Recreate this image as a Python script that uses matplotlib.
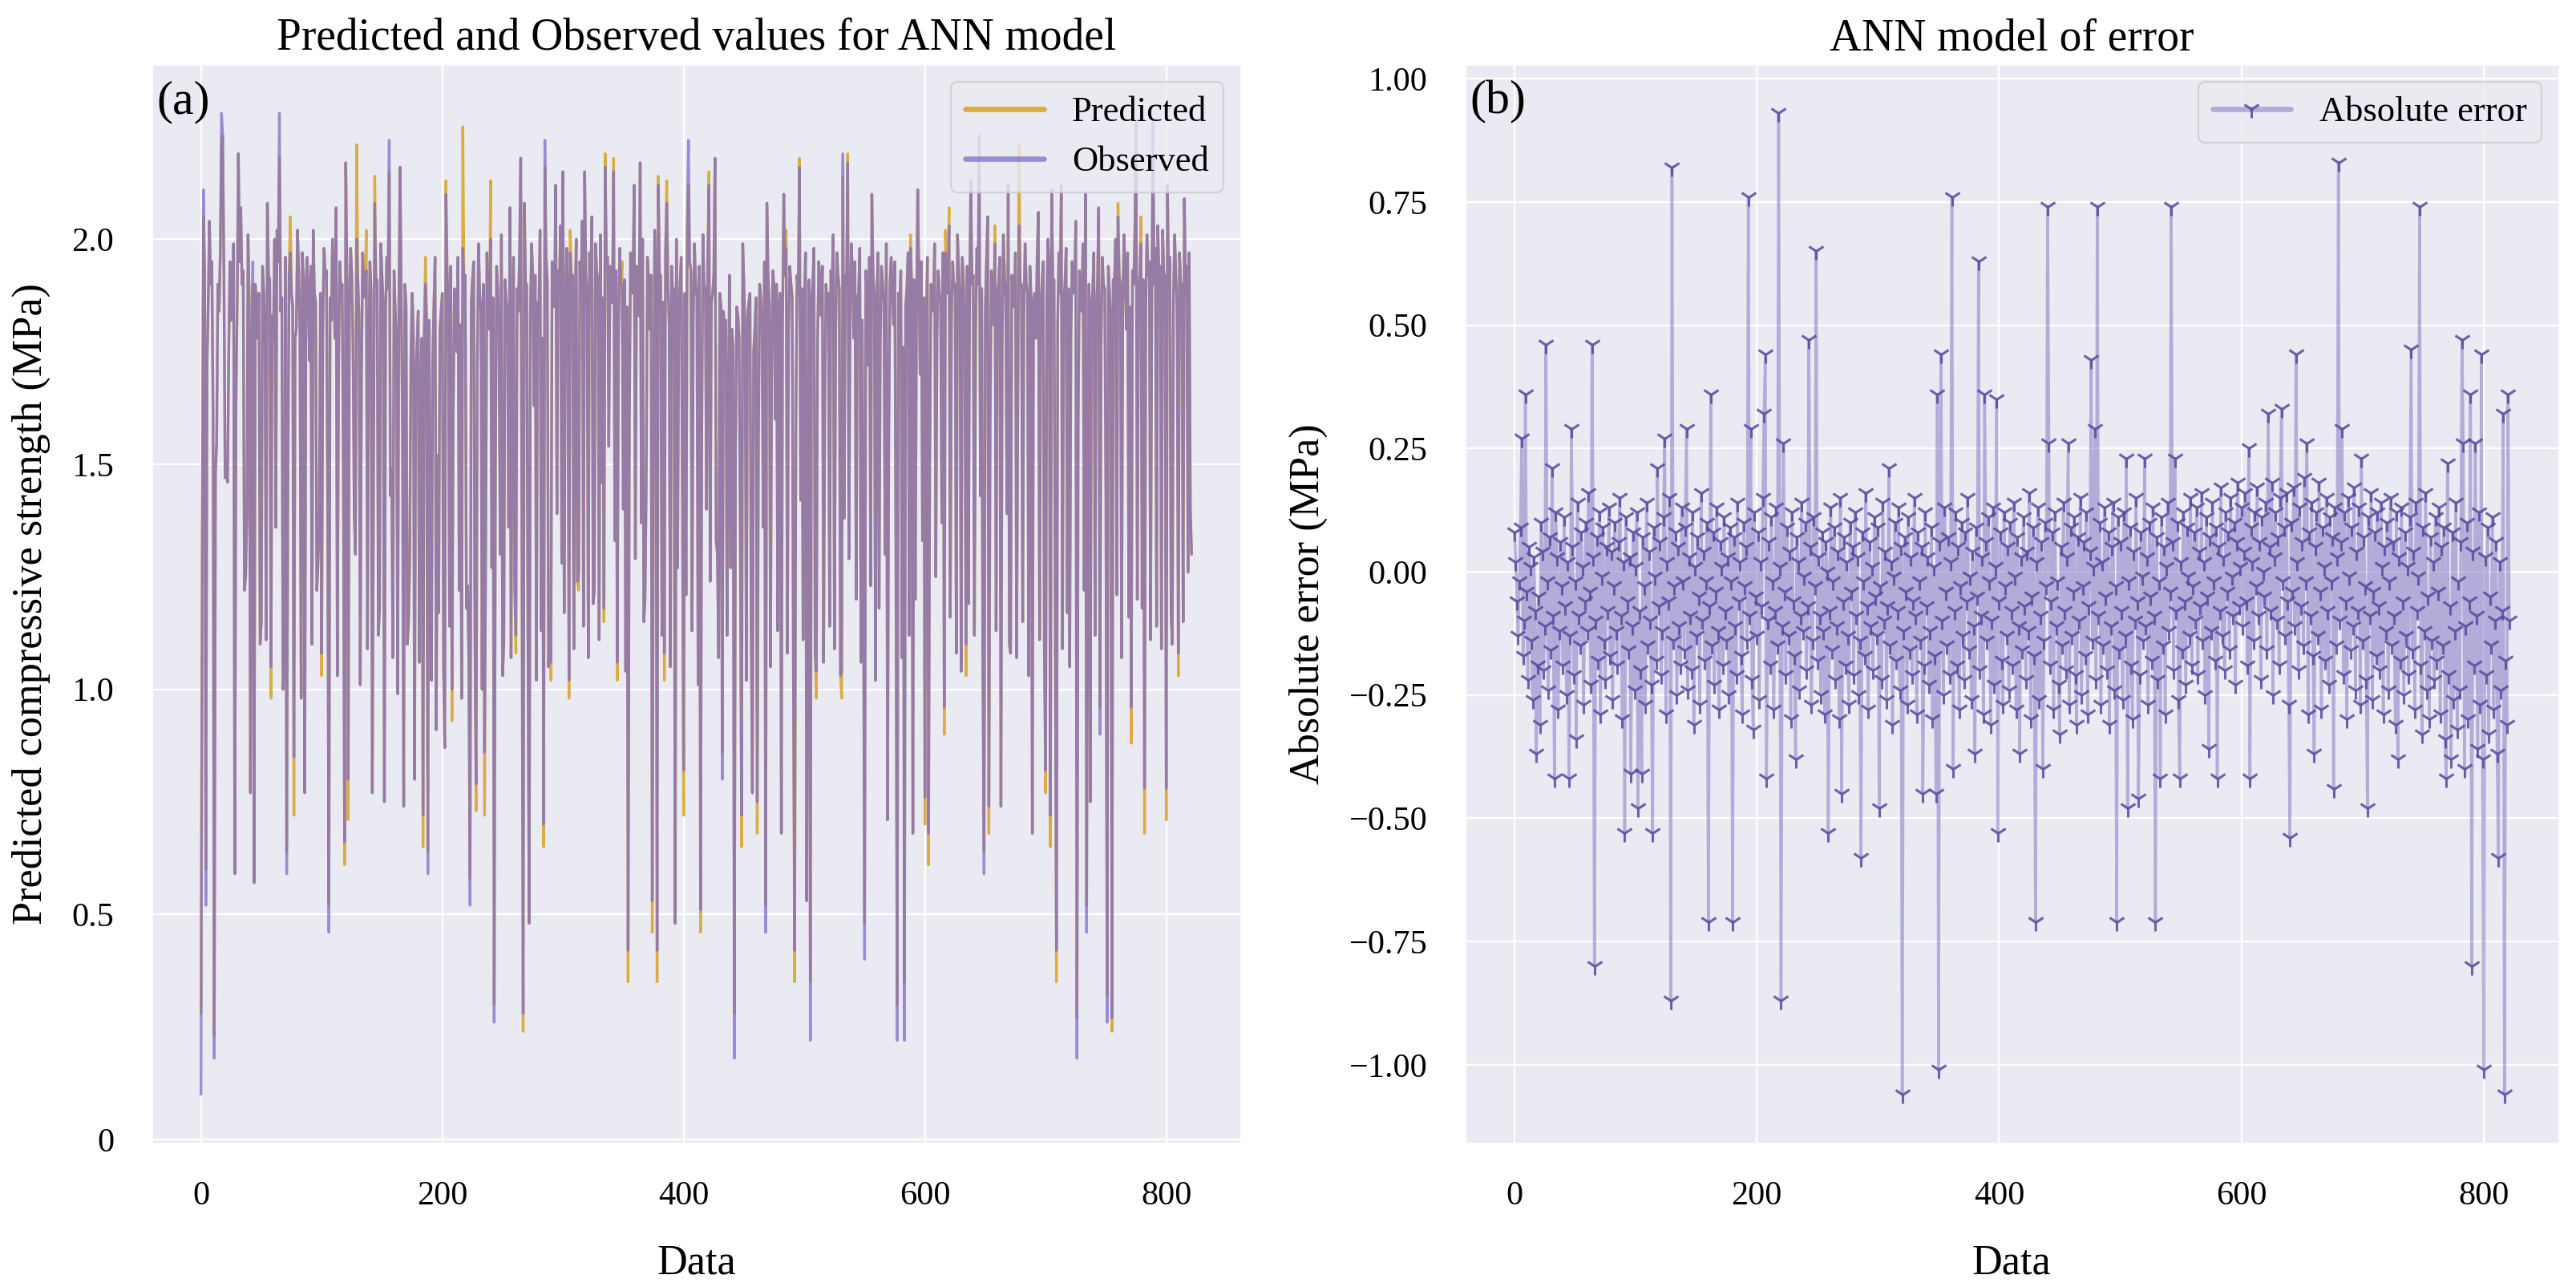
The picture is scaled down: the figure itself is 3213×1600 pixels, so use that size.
import numpy as np
import matplotlib
matplotlib.use("Agg")
import matplotlib.pyplot as plt
import seaborn as sns

# ---------------- data ----------------
observed = [
    0.10, 1.30, 2.11, 1.93, 0.52, 1.72, 1.86, 2.04, 1.90, 1.95, 1.62, 0.18, 1.48, 1.55, 1.90, 1.84, 1.97, 2.28, 2.23, 1.92,
    1.47, 1.48, 1.46, 1.75, 1.95, 1.82, 1.88, 1.99, 0.59, 1.64, 1.86, 2.19, 1.95, 2.07, 1.90, 1.93, 1.22, 1.25, 1.38, 2.01,
    1.86, 0.77, 1.74, 1.95, 0.57, 1.90, 1.86, 1.78, 1.88, 1.10, 1.15, 1.94, 1.88, 1.80, 1.11, 2.08, 1.92, 1.91, 1.05, 1.83,
    1.78, 2.00, 1.36, 2.02, 1.95, 2.28, 1.84, 1.87, 1.00, 1.05, 1.96, 0.59, 1.44, 1.92, 1.97, 1.88, 1.85, 0.85, 1.78, 1.80,
    2.02, 1.93, 1.80, 0.98, 1.97, 1.91, 0.77, 1.89, 1.96, 1.85, 1.73, 1.94, 1.10, 2.02, 1.88, 1.86, 1.22, 1.28, 1.37, 1.88,
    1.08, 1.81, 1.98, 1.92, 1.93, 1.40, 0.46, 1.87, 1.82, 2.00, 1.89, 1.78, 2.07, 1.03, 1.71, 1.95, 1.88, 1.90, 1.48, 0.66,
    2.17, 1.90, 0.80, 1.85, 1.98, 1.92, 1.76, 1.39, 1.30, 2.00, 1.91, 1.83, 1.01, 1.69, 1.97, 1.88, 1.87, 1.93, 1.09, 1.75,
    1.95, 1.88, 0.77, 1.50, 2.08, 1.90, 1.91, 1.12, 1.18, 1.99, 1.92, 1.86, 0.75, 1.84, 1.96, 1.89, 2.22, 1.43, 1.49, 1.07,
    1.93, 1.84, 1.77, 0.99, 1.86, 2.16, 1.88, 1.58, 0.74, 1.90, 1.85, 1.10, 1.15, 1.29, 1.74, 1.88, 1.80, 0.80, 1.70, 1.76,
    1.84, 1.06, 1.66, 1.78, 0.72, 1.79, 1.90, 1.82, 0.59, 1.82, 1.31, 1.02, 1.73, 1.85, 1.96, 0.91, 1.52, 1.17, 1.80, 1.84,
    1.88, 1.05, 0.87, 2.10, 1.93, 1.83, 1.14, 1.94, 1.00, 1.60, 1.89, 1.84, 1.75, 1.96, 1.22, 1.81, 0.98, 1.98, 1.90, 1.92,
    1.18, 1.23, 1.06, 0.52, 1.86, 1.91, 1.95, 1.13, 0.79, 1.72, 1.99, 1.88, 1.84, 1.00, 1.90, 0.86, 1.35, 1.97, 1.86, 1.80,
    2.00, 1.27, 1.87, 0.26, 1.48, 1.94, 1.89, 1.79, 1.30, 2.01, 1.03, 1.10, 1.91, 1.86, 1.85, 1.36, 2.07, 1.07, 1.76, 1.96,
    1.23, 1.12, 1.89, 1.84, 1.97, 2.18, 1.31, 0.28, 2.08, 1.90, 1.90, 1.08, 0.48, 1.83, 1.99, 1.92, 1.63, 1.92, 1.02, 1.86,
    1.84, 2.02, 1.13, 1.78, 0.70, 2.22, 1.96, 1.91, 1.05, 1.12, 1.06, 1.95, 1.87, 1.85, 2.12, 1.39, 1.93, 1.90, 2.03, 1.28,
    2.15, 1.17, 1.80, 1.98, 1.88, 1.02, 1.97, 1.91, 1.92, 1.09, 1.84, 2.00, 1.24, 1.26, 1.95, 1.90, 2.04, 1.14, 2.15, 1.92,
    1.88, 1.07, 1.97, 1.90, 2.05, 1.19, 1.22, 1.99, 1.93, 1.91, 1.11, 2.01, 1.46, 1.87, 1.18, 2.16, 1.95, 1.96, 1.54, 1.94,
    1.86, 1.86, 2.15, 1.33, 1.93, 1.06, 1.79, 1.98, 1.90, 1.90, 1.40, 1.91, 1.04, 1.85, 0.42, 1.57, 1.97, 1.92, 1.88, 2.12,
    1.29, 1.94, 1.90, 1.83, 2.17, 1.37, 2.00, 1.15, 1.20, 1.45, 1.96, 1.91, 1.80, 1.92, 0.53, 1.52, 2.02, 1.93, 0.42, 2.12,
    1.92, 1.92, 1.12, 1.86, 1.08, 1.97, 2.08, 1.90, 1.81, 1.05, 1.94, 1.88, 1.89, 0.48, 2.00, 1.27, 1.84, 1.90, 1.96, 1.43,
    0.82, 1.88, 1.21, 2.02, 2.22, 1.95, 1.93, 1.13, 1.82, 1.99, 1.90, 1.87, 1.01, 1.94, 0.51, 1.56, 2.01, 1.90, 1.89, 1.40,
    1.95, 2.12, 1.24, 1.86, 1.88, 1.92, 2.18, 1.33, 1.30, 1.07, 1.88, 1.85, 0.80, 1.84, 1.80, 1.82, 1.12, 1.58, 1.92, 1.27,
    1.80, 1.76, 0.18, 1.52, 1.85, 1.83, 1.78, 1.34, 0.72, 1.99, 1.90, 1.76, 1.02, 1.83, 1.86, 1.88, 1.14, 0.77, 1.75, 1.80,
    1.87, 0.75, 1.55, 1.90, 1.87, 1.81, 1.36, 1.95, 0.46, 2.08, 1.92, 1.86, 1.05, 1.74, 1.93, 1.89, 1.60, 1.90, 1.13, 1.85,
    1.88, 0.68, 1.82, 2.10, 1.92, 1.98, 1.08, 1.79, 1.94, 1.90, 1.87, 1.03, 0.42, 1.59, 1.92, 1.88, 2.16, 1.42, 1.89, 1.11,
    1.84, 1.97, 0.53, 1.48, 1.91, 0.22, 1.86, 1.90, 1.98, 1.08, 1.04, 1.77, 1.95, 1.91, 1.83, 1.94, 1.06, 1.62, 1.90, 1.86,
    1.88, 1.14, 1.93, 1.89, 2.01, 1.09, 1.80, 1.97, 1.92, 1.89, 1.03, 1.04, 2.19, 1.38, 1.92, 1.90, 2.17, 1.29, 1.85, 1.99,
    1.92, 1.78, 1.95, 1.20, 1.87, 1.88, 1.98, 1.06, 1.82, 1.31, 0.40, 1.93, 1.88, 1.72, 1.96, 1.23, 2.10, 1.92, 1.88, 1.02,
    1.84, 1.97, 1.18, 1.79, 1.94, 1.90, 1.86, 1.30, 1.99, 0.71, 1.54, 1.90, 1.96, 1.88, 1.81, 1.95, 1.26, 0.22, 1.88, 1.85,
    1.93, 1.07, 1.76, 0.22, 1.85, 1.89, 1.97, 1.12, 1.98, 1.90, 0.68, 1.91, 1.20, 1.83, 2.11, 1.92, 1.70, 1.95, 1.33, 1.87,
    0.76, 1.80, 1.96, 0.68, 1.52, 1.90, 1.88, 1.84, 1.99, 1.25, 1.78, 1.93, 1.88, 1.86, 1.37, 1.97, 0.96, 1.97, 1.92, 1.88,
    2.03, 1.16, 1.82, 1.95, 1.89, 1.90, 1.08, 2.01, 1.93, 1.87, 1.04, 1.96, 1.90, 1.80, 1.10, 1.94, 1.19, 1.86, 2.13, 1.90,
    1.92, 1.12, 1.79, 1.98, 1.90, 2.23, 1.43, 1.89, 1.06, 0.59, 1.84, 1.95, 2.05, 0.74, 1.57, 1.93, 1.89, 1.81, 1.99, 1.13,
    1.88, 1.90, 1.96, 0.74, 1.76, 2.01, 1.92, 1.87, 1.39, 2.12, 1.10, 1.08, 1.92, 1.88, 1.85, 1.97, 1.07, 1.66, 2.03, 1.90,
    1.90, 1.15, 1.83, 1.99, 1.90, 1.88, 1.03, 1.94, 1.87, 0.68, 1.86, 1.88, 1.78, 1.96, 2.06, 1.11, 1.85, 1.90, 1.95, 1.08,
    0.82, 1.87, 2.00, 1.92, 0.72, 2.11, 1.90, 1.91, 1.13, 0.42, 1.81, 1.97, 1.88, 2.12, 1.09, 1.86, 1.90, 1.98, 1.17, 1.89,
    1.05, 1.79, 1.95, 1.90, 1.88, 2.04, 0.18, 1.58, 1.93, 1.89, 1.84, 1.99, 1.22, 2.10, 0.46, 1.54, 1.90, 0.75, 1.86, 1.88,
    1.97, 1.12, 1.85, 1.90, 2.07, 0.90, 1.77, 1.96, 1.90, 1.89, 1.42, 0.26, 1.94, 1.88, 1.83, 0.27, 1.91, 1.90, 2.00, 1.21,
    2.05, 1.92, 1.90, 1.07, 1.86, 2.01, 1.92, 1.80, 1.97, 1.16, 1.85, 0.96, 1.93, 1.90, 2.02, 2.26, 1.20, 1.88, 1.92, 1.99,
    1.18, 1.91, 0.78, 1.84, 2.01, 1.92, 1.95, 1.11, 1.87, 2.26, 1.90, 1.98, 1.14, 2.03, 1.92, 1.94, 1.09, 2.02, 1.92, 1.92,
    0.78, 2.12, 1.90, 1.96, 1.17, 1.10, 1.88, 2.01, 1.92, 1.85, 1.08, 1.97, 1.90, 1.90, 1.15, 2.09, 1.88, 1.94, 1.26, 1.97,
    1.40, 1.30,
]

# predicted equals observed except where the two curves visibly part
predicted_where_different = {
    0: 0.28, 2: 2.05, 4: 0.60, 11: 0.23, 17: 2.20, 43: 1.90, 58: 0.98, 65: 2.18, 71: 0.64, 74: 2.05,
    77: 0.72, 100: 1.03, 106: 0.52, 119: 0.61, 122: 0.71, 129: 2.21, 137: 2.02, 144: 2.14, 156: 2.15,
    184: 0.65, 186: 1.96, 188: 0.64, 203: 2.13, 208: 0.93, 217: 2.25, 223: 0.58, 228: 0.73, 235: 0.72,
    240: 2.13, 243: 0.30, 261: 1.08, 267: 0.24, 284: 0.65, 285: 2.16, 290: 1.02, 305: 0.98, 306: 2.02,
    313: 1.22, 334: 1.15, 335: 2.19, 342: 2.18, 345: 1.02, 349: 1.95, 354: 0.35, 374: 0.46, 378: 0.35,
    379: 2.14, 384: 1.02, 386: 2.13, 400: 0.72, 404: 2.12, 414: 0.46, 421: 2.15, 432: 0.86, 442: 0.28,
    448: 0.65, 461: 0.68, 468: 0.52, 485: 2.02, 492: 0.35, 496: 2.18, 505: 0.35, 510: 0.98, 531: 0.98,
    532: 2.14, 536: 2.19, 550: 0.48, 577: 0.30, 583: 0.35, 588: 2.01, 600: 0.70, 603: 0.61, 616: 0.90,
    617: 2.02, 620: 2.07, 634: 1.03, 645: 2.15, 649: 0.64, 653: 0.68, 658: 2.03, 678: 2.21, 700: 0.77,
    704: 0.65, 709: 0.35, 726: 0.27, 734: 0.52, 745: 0.96, 751: 0.32, 755: 0.24, 760: 2.08, 771: 0.88,
    775: 2.20, 779: 2.05, 782: 0.68, 789: 2.18, 800: 0.71, 810: 1.03,
}

absolute_error = [
    0.08, 0.02, -0.06, -0.13, -0.02, 0.09, 0.27, -0.17, -0.10, 0.36, -0.04, -0.22, 0.05, 0.01, -0.14, -0.26, 0.03, -0.08, -0.37, -0.19,
    -0.05, -0.31, 0.10, 0.04, -0.20, -0.11, 0.46, -0.02, -0.24, 0.07, -0.16, 0.21, -0.09, -0.42, 0.12, 0.03, -0.28, -0.12, 0.06, -0.03,
    -0.19, 0.11, -0.07, -0.25, 0.02, -0.42, -0.13, 0.29, 0.05, -0.21, -0.02, -0.34, 0.14, -0.09, -0.15, 0.08, 0.01, -0.27, -0.06, 0.10,
    -0.12, 0.16, -0.04, -0.23, 0.46, 0.03, -0.80, -0.10, 0.07, -0.18, 0.12, -0.29, -0.01, 0.09, -0.14, -0.22, 0.05, -0.08, 0.13, -0.17,
    0.04, -0.26, -0.03, 0.10, -0.12, -0.19, 0.06, 0.15, -0.09, -0.30, 0.02, -0.53, 0.11, -0.06, -0.16, 0.03, -0.41, -0.11, 0.08, -0.24,
    0.01, 0.12, -0.48, -0.08, -0.20, -0.41, 0.07, -0.03, -0.27, 0.14, -0.15, 0.04, -0.10, -0.23, -0.53, 0.09, -0.01, -0.18, 0.21, -0.07,
    0.06, -0.21, -0.12, 0.11, 0.27, -0.29, 0.02, -0.06, 0.15, -0.87, 0.82, -0.14, -0.03, 0.08, -0.25, 0.05, -0.11, -0.19, 0.13, -0.02,
    -0.16, 0.09, 0.29, -0.24, 0.03, -0.09, -0.20, 0.12, -0.31, 0.01, -0.13, 0.07, -0.05, -0.27, 0.16, -0.10, 0.04, -0.18, -0.02, 0.10,
    -0.71, -0.07, 0.36, -0.15, 0.08, -0.23, -0.04, 0.13, -0.12, -0.28, 0.06, 0.01, -0.19, 0.11, -0.08, -0.14, 0.03, -0.25, 0.09, -0.02,
    -0.71, 0.07, -0.11, -0.21, 0.14, -0.06, 0.02, -0.17, -0.29, 0.10, -0.03, 0.05, -0.14, 0.76, -0.09, 0.29, -0.22, -0.32, 0.12, -0.05,
    -0.13, 0.08, -0.26, 0.02, -0.07, 0.15, 0.32, 0.44, -0.42, -0.10, 0.06, -0.19, 0.11, -0.02, -0.28, -0.08, 0.13, -0.15, 0.93, 0.01,
    -0.87, -0.11, 0.26, -0.04, -0.21, 0.09, -0.13, 0.04, -0.30, 0.12, -0.06, -0.17, -0.38, 0.07, 0.02, -0.24, -0.09, 0.14, -0.12, -0.01,
    0.10, -0.20, -0.07, 0.47, 0.05, -0.27, -0.14, 0.11, -0.03, 0.65, -0.18, 0.03, -0.09, -0.25, 0.08, -0.12, -0.29, 0.06, 0.00, -0.53,
    -0.08, 0.13, -0.16, -0.02, 0.09, -0.22, -0.11, 0.04, -0.30, 0.15, -0.45, -0.06, 0.07, -0.19, 0.02, -0.13, -0.27, 0.10, -0.04, 0.05,
    -0.21, 0.12, -0.09, 0.03, -0.25, -0.14, -0.58, 0.08, -0.02, -0.17, 0.16, -0.07, -0.28, 0.06, -0.11, 0.01, -0.20, 0.11, -0.05, -0.13,
    0.09, -0.48, -0.03, -0.22, 0.14, -0.10, 0.04, -0.26, -0.07, 0.21, -0.15, 0.02, -0.31, -0.01, 0.10, -0.18, -0.08, 0.13, -0.24, 0.05,
    -1.06, -0.12, 0.07, -0.04, -0.27, 0.11, -0.16, 0.03, -0.21, -0.06, 0.15, -0.09, -0.29, 0.08, -0.02, -0.14, 0.05, -0.45, -0.19, 0.12,
    -0.07, 0.03, -0.23, -0.12, 0.09, -0.30, 0.01, -0.17, -0.45, 0.36, -1.01, 0.06, 0.44, -0.10, -0.25, 0.13, -0.04, -0.15, 0.07, -0.21,
    0.02, 0.76, -0.40, -0.08, 0.12, -0.19, 0.05, -0.28, -0.03, 0.10, -0.13, -0.22, 0.08, -0.06, 0.15, -0.16, -0.01, -0.26, 0.04, -0.11,
    -0.37, 0.09, -0.05, 0.63, -0.20, -0.09, 0.03, -0.29, 0.36, 0.06, -0.14, 0.11, -0.02, -0.31, -0.10, 0.13, -0.23, 0.01, 0.35, -0.53,
    -0.06, 0.08, -0.18, -0.27, 0.12, -0.03, -0.13, 0.05, -0.24, 0.10, -0.08, -0.19, 0.14, -0.01, -0.28, 0.07, -0.11, -0.37, 0.03, -0.16,
    0.11, -0.07, -0.22, 0.04, -0.12, 0.16, -0.30, -0.05, 0.09, -0.17, -0.71, 0.02, 0.13, -0.26, -0.09, 0.06, -0.40, -0.14, 0.10, -0.03,
    0.74, 0.26, -0.19, -0.06, 0.08, -0.28, 0.12, -0.11, -0.02, -0.23, -0.33, 0.05, -0.15, 0.14, -0.08, -0.20, 0.03, 0.26, -0.27, 0.09,
    -0.13, -0.04, 0.11, -0.21, -0.31, 0.07, -0.10, 0.15, -0.25, -0.03, 0.06, -0.17, 0.12, -0.29, -0.07, 0.04, 0.43, -0.14, 0.01, 0.29,
    -0.22, 0.74, -0.09, 0.10, -0.27, 0.02, -0.15, 0.13, -0.05, -0.20, 0.08, -0.31, -0.11, 0.05, 0.14, -0.24, -0.03, -0.71, 0.11, -0.16,
    0.06, -0.08, -0.26, 0.12, -0.13, 0.23, -0.48, -0.02, 0.09, -0.19, -0.30, 0.04, -0.10, 0.15, -0.06, -0.46, -0.21, 0.08, -0.01, -0.14,
    0.23, -0.11, 0.03, -0.27, 0.10, -0.05, -0.18, 0.13, -0.09, -0.71, 0.07, -0.22, -0.02, -0.42, 0.11, -0.15, 0.05, -0.29, 0.01, 0.14,
    -0.12, -0.04, 0.74, 0.06, -0.20, 0.23, -0.08, 0.10, -0.26, -0.42, 0.02, -0.16, 0.12, -0.06, -0.23, 0.09, -0.01, -0.13, 0.15, -0.19,
    -0.03, 0.08, -0.10, 0.13, -0.21, 0.04, -0.07, 0.16, -0.14, 0.02, -0.25, 0.11, -0.05, -0.36, 0.07, -0.12, 0.14, -0.02, -0.18, 0.09,
    -0.42, 0.05, -0.08, 0.17, -0.13, 0.03, -0.20, 0.12, -0.04, 0.08, -0.16, 0.15, -0.01, -0.09, 0.10, -0.23, 0.06, 0.18, -0.07, 0.01,
    0.13, -0.11, 0.04, 0.16, -0.06, -0.19, 0.25, -0.42, 0.09, 0.02, -0.14, 0.12, -0.03, 0.17, -0.09, 0.06, -0.22, 0.11, 0.00, -0.05,
    0.14, -0.16, 0.32, 0.05, -0.08, 0.18, -0.25, 0.03, 0.12, -0.10, 0.07, -0.19, 0.15, 0.33, -0.02, 0.09, -0.13, 0.16, -0.06, -0.27,
    -0.54, 0.10, -0.04, 0.17, -0.11, 0.44, 0.02, -0.20, 0.13, -0.07, 0.06, -0.15, 0.19, -0.02, 0.26, -0.29, 0.08, -0.09, 0.14, -0.17,
    -0.37, 0.05, 0.12, -0.13, 0.18, -0.04, -0.28, 0.09, 0.01, -0.18, 0.15, -0.08, -0.23, 0.11, -0.02, 0.07, -0.44, 0.13, -0.15, 0.03,
    0.83, -0.10, 0.06, 0.29, -0.21, 0.12, -0.06, -0.30, 0.15, -0.01, -0.16, 0.09, -0.11, 0.17, -0.24, 0.04, -0.08, 0.13, -0.27, 0.23,
    -0.14, 0.07, -0.03, -0.22, -0.48, 0.11, -0.09, 0.16, -0.26, -0.04, 0.08, -0.17, 0.12, -0.07, -0.20, 0.14, 0.01, -0.29, 0.05, -0.12,
    0.10, -0.24, -0.02, 0.15, -0.15, 0.06, -0.09, -0.31, 0.12, -0.38, 0.03, -0.18, 0.13, -0.06, -0.25, 0.08, -0.13, 0.01, -0.21, 0.11,
    0.45, -0.16, 0.04, -0.28, 0.14, -0.08, -0.01, 0.74, -0.19, -0.33, 0.09, -0.12, 0.16, -0.24, -0.05, -0.30, 0.07, -0.14, 0.02, -0.22,
    0.11, -0.18, -0.04, 0.13, -0.29, 0.05, -0.15, 0.09, -0.34, -0.42, 0.22, -0.21, -0.07, -0.38, 0.08, -0.26, -0.12, 0.14, -0.32, -0.02,
    -0.24, 0.06, 0.47, 0.26, -0.40, -0.11, 0.10, -0.30, -0.06, 0.36, -0.80, 0.04, -0.19, 0.26, -0.09, -0.36, 0.12, -0.27, 0.44, -0.38,
    -1.01, 0.03, -0.21, 0.09, -0.33, -0.05, -0.15, 0.11, -0.28, -0.10, 0.06, -0.37, -0.58, 0.02, -0.24, -0.08, 0.32, -1.06, -0.18, -0.31,
    0.36, -0.10,
]

left_yticks = [0, 0.5, 1.0, 1.5, 2.0]
left_yticklabels = ["0", "0.5", "1.0", "1.5", "2.0"]
right_yticks = [-1.00, -0.75, -0.50, -0.25, 0.00, 0.25, 0.50, 0.75, 1.00]
xticks = [0, 200, 400, 600, 800]

predicted = list(observed)
for i, v in predicted_where_different.items():
    if i < len(predicted):
        predicted[i] = v

# ---------------- style ----------------
sns.set_theme(style="darkgrid")
plt.rcParams["font.family"] = ["Liberation Serif", "DejaVu Serif"]
plt.rcParams["text.color"] = "black"
plt.rcParams["axes.labelcolor"] = "black"
plt.rcParams["xtick.color"] = "black"
plt.rcParams["ytick.color"] = "black"

fig = plt.figure(figsize=(3213 / 160, 10), dpi=160)
ax1 = fig.add_axes([0.0588, 0.1088, 0.4230, 0.8412])
ax2 = fig.add_axes([0.5686, 0.1088, 0.4248, 0.8412])

# ---------------- panel (a) ----------------
ax1.plot(np.arange(len(predicted)), predicted, color="#D9A62E", alpha=0.9, lw=1.5, label="Predicted")
ax1.plot(np.arange(len(observed)), observed, color="#7F6BC8", alpha=0.75, lw=1.5, label="Observed")
ax1.set_yticks(left_yticks)
ax1.set_yticklabels(left_yticklabels)
ax1.set_xticks(xticks)
ax1.set_title("Predicted and Observed values for ANN model", fontsize=25, pad=8)
ax1.set_xlabel("Data", fontsize=23.5, labelpad=18)
ax1.set_ylabel("Predicted compressive strength (MPa)", fontsize=23.5, labelpad=12)
ax1.tick_params(axis="both", labelsize=19, pad=15)
ax1.text(0.005, 0.985, "(a)", transform=ax1.transAxes, fontsize=27, va="top", ha="left")
leg1 = ax1.legend(loc="upper right", fontsize=20, frameon=True, framealpha=0.8, handlelength=2.2,
                  edgecolor="0.8", facecolor="#EAEAF2")
for h in leg1.get_lines():
    h.set_linewidth(3.0)

# ---------------- panel (b) ----------------
ax2.plot(np.arange(len(absolute_error)), absolute_error, color=(0.53, 0.47, 0.77, 0.55), lw=1.6,
         marker="1", markersize=10, markeredgewidth=1.4,
         markeredgecolor=(0.35, 0.28, 0.62, 0.85), label="Absolute error")
ax2.set_yticks(right_yticks)
ax2.set_yticklabels([f"{v:.2f}".replace("-", "\u2212") for v in right_yticks])
ax2.set_xticks(xticks)
ax2.set_title("ANN model of error", fontsize=25, pad=8)
ax2.set_xlabel("Data", fontsize=23.5, labelpad=18)
ax2.set_ylabel("Absolute error (MPa)", fontsize=23.5, labelpad=12)
ax2.tick_params(axis="both", labelsize=19, pad=15)
ax2.text(0.005, 0.985, "(b)", transform=ax2.transAxes, fontsize=27, va="top", ha="left")
leg2 = ax2.legend(loc="upper right", fontsize=20, frameon=True, framealpha=0.8, handlelength=2.2,
                  edgecolor="0.8", facecolor="#EAEAF2")
for h in leg2.get_lines():
    h.set_linewidth(3.0)

fig.savefig("out.png", dpi=160)
